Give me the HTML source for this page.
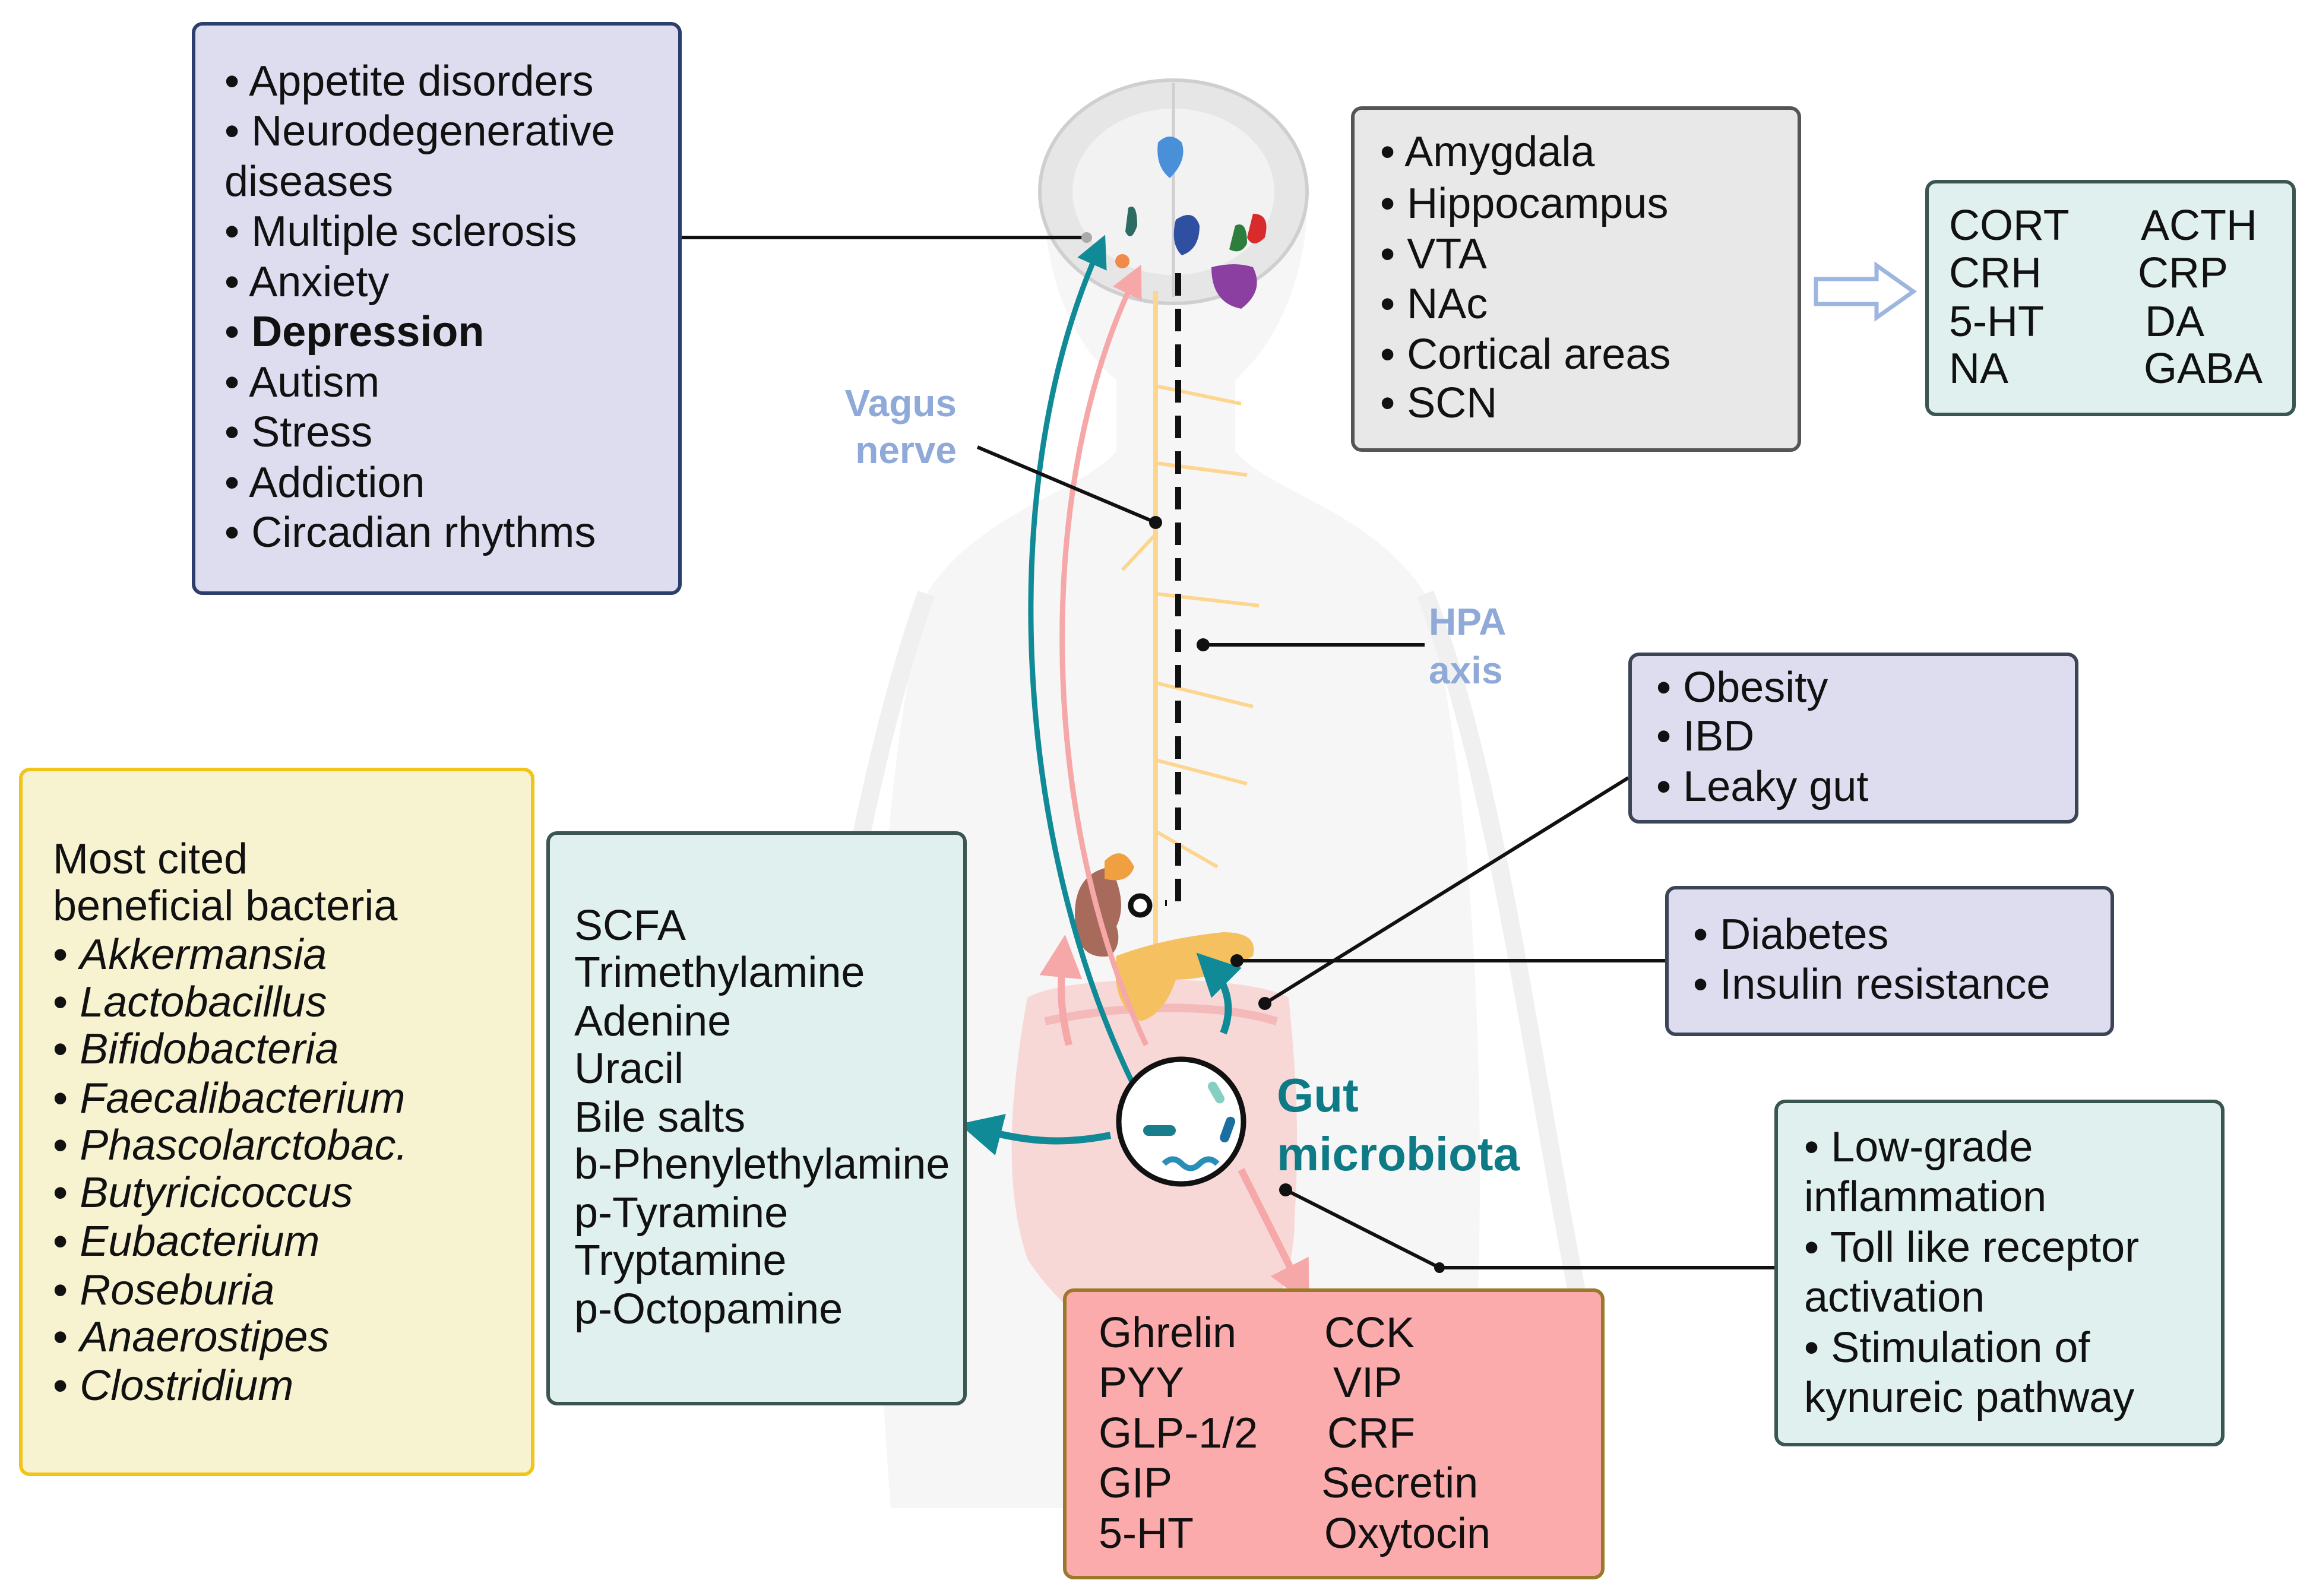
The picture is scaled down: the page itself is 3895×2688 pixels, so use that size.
<!DOCTYPE html>
<html><head><meta charset="utf-8"><style>
html,body{margin:0;padding:0;background:#fff}
body{width:3895px;height:2688px;position:relative;overflow:hidden;font-family:"Liberation Sans",sans-serif;color:#111}
.box{position:absolute;box-sizing:border-box;border-radius:18px;border:6px solid}
.t{position:absolute;font-size:72px;line-height:1;white-space:nowrap;transform:translateY(-50%)}
svg{position:absolute;left:0;top:0}
</style></head><body>
<svg width="3895" height="2688" viewBox="0 0 3895 2688">
<defs>
<marker id="ta" markerWidth="6" markerHeight="6" refX="3" refY="3" orient="auto"><path d="M0,0L6,3L0,6z" fill="#0f8a96"/></marker>
<marker id="pa" markerWidth="6" markerHeight="6" refX="3" refY="3" orient="auto"><path d="M0,0L6,3L0,6z" fill="#f6a7a7"/></marker>
</defs>
<path d="M1500,2540 C1450,1900 1480,1300 1560,1000 C1650,860 1820,830 1880,760 L1880,640 C1780,560 1750,400 1760,300 C1780,170 1880,140 1976,140 C2080,140 2180,180 2200,300 C2210,420 2170,560 2080,640 L2080,760 C2140,830 2310,860 2400,1000 C2480,1300 2520,1900 2470,2540 Z" fill="#f6f6f6"/>
<path d="M1560,1000 C1450,1300 1380,1800 1300,2200 M2400,1000 C2520,1300 2580,1800 2660,2200" stroke="#f0f0f0" stroke-width="30" fill="none"/>
<ellipse cx="1976" cy="323" rx="225" ry="188" fill="#e6e6e6" stroke="#cfcfcf" stroke-width="6"/>
<ellipse cx="1976" cy="323" rx="170" ry="140" fill="#f2f2f2"/>
<line x1="1976" y1="140" x2="1976" y2="500" stroke="#cfcfcf" stroke-width="5"/>
<path d="M1950,240 q20,-20 40,0 q10,30 -20,60 q-25,-20 -20,-60z" fill="#4a90d9"/>
<path d="M1980,370 q30,-20 40,10 q0,40 -30,50 q-20,-20 -10,-60z" fill="#2f4fa0"/>
<path d="M2080,380 q20,-10 20,30 q-10,20 -30,10z" fill="#2e7d3d"/>
<path d="M2110,360 q30,0 20,40 q-20,20 -30,0z" fill="#d92b2b"/>
<path d="M2040,450 q40,-10 70,0 q20,40 -20,70 q-50,-10 -50,-70z" fill="#8b3fa0"/>
<path d="M1900,350 q15,-10 15,30 q-10,30 -20,10z" fill="#2d6b63"/>
<circle cx="1890" cy="440" r="12" fill="#f08a4b"/>
<path d="M1730,1680 C1700,1850 1690,2000 1730,2120 C1780,2200 1860,2250 1900,2300 L1930,2500 L2050,2500 L2070,2300 C2120,2250 2180,2180 2180,2050 C2190,1900 2180,1780 2170,1680 C2100,1640 1800,1640 1730,1680Z" fill="#f9cfcf" opacity="0.8"/>
<path d="M1760,1720 C1900,1690 2050,1690 2150,1720" stroke="#f4b9b9" stroke-width="14" fill="none"/>
<path d="M1946,490 L1946,1700" stroke="#fcd58f" stroke-width="8" fill="none"/>
<path d="M1946,650 L2090,680 M1946,780 L2100,800 M1946,1000 L2120,1020 M1946,1150 L2110,1190 M1946,1280 L2100,1320 M1946,900 L1890,960 M1946,1400 L2050,1460" stroke="#fcd58f" stroke-width="6" fill="none"/>
<path d="M1870,1460 q-60,10 -60,80 q0,80 60,70 q20,-20 10,-50 q20,-40 -10,-100z" fill="#a86b5b"/>
<path d="M1860,1450 q30,-30 50,10 q-10,30 -50,20z" fill="#f0a040"/>
<path d="M1880,1610 q80,-30 180,-40 q60,0 50,40 q-60,40 -130,40 q-20,60 -60,70 q-50,-30 -40,-110z" fill="#f5c060"/>
<circle cx="1920" cy="1525" r="16" fill="#fff" stroke="#111" stroke-width="9"/>
<path d="M1984,460 L1984,1521 L1962,1521" stroke="#111" stroke-width="10" stroke-dasharray="38,22" fill="none"/>
<path d="M1910,1830 C1700,1400 1680,800 1850,420" stroke="#0f8a96" stroke-width="9" fill="none" marker-end="url(#ta)"/>
<path d="M1930,1760 C1740,1350 1750,800 1910,470" stroke="#f6a7a7" stroke-width="9" fill="none" marker-end="url(#pa)"/>
<path d="M1870,1912 C1780,1930 1720,1920 1650,1902" stroke="#0f8a96" stroke-width="12" fill="none" marker-end="url(#ta)"/>
<path d="M2060,1740 C2080,1690 2060,1650 2040,1630" stroke="#0f8a96" stroke-width="12" fill="none" marker-end="url(#ta)"/>
<path d="M1800,1760 C1785,1700 1785,1660 1790,1610" stroke="#f6a7a7" stroke-width="12" fill="none" marker-end="url(#pa)"/>
<path d="M2090,1970 C2130,2050 2160,2110 2188,2165" stroke="#f6a7a7" stroke-width="12" fill="none" marker-end="url(#pa)"/>
<circle cx="1989" cy="1889" r="105" fill="#fff" stroke="#111" stroke-width="9"/>
<rect x="1925" y="1895" width="55" height="18" rx="9" fill="#1a7d8c"/>
<rect x="2040" y="1820" width="16" height="40" rx="8" fill="#86d0c3" transform="rotate(-30 2048 1840)"/>
<rect x="2060" y="1880" width="16" height="45" rx="8" fill="#1a6fa0" transform="rotate(20 2068 1900)"/>
<path d="M1960,1960 q15,-15 30,0 q15,15 30,0 q15,-15 30,0" stroke="#2a8fb8" stroke-width="10" fill="none"/>
<g stroke="#111" stroke-width="6" fill="none">
<line x1="1148" y1="400" x2="1830" y2="400"/>
<line x1="1646" y1="753" x2="1946" y2="880"/>
<line x1="2026" y1="1086" x2="2399" y2="1086"/>
<line x1="2742" y1="1310" x2="2130" y2="1690"/>
<line x1="2804" y1="1618" x2="2083" y2="1618"/>
<polyline points="2988,2135 2424,2135 2165,2004"/>
</g>
<g fill="#111"><circle cx="1946" cy="880" r="11"/><circle cx="2026" cy="1086" r="11"/><circle cx="2130" cy="1690" r="11"/><circle cx="2083" cy="1618" r="11"/><circle cx="2424" cy="2135" r="9"/><circle cx="2165" cy="2004" r="11"/></g>
<circle cx="1830" cy="400" r="9" fill="#aaa"/>
<path d="M3058,470 L3160,470 L3160,447 L3222,491 L3160,535 L3160,512 L3058,512Z" fill="#fff" stroke="#9cb6e0" stroke-width="7"/>
</svg>

<div class="box" style="left:323px;top:37px;width:825px;height:965px;background:#dedcef;border-color:#2c3e6b"></div>
<div class="box" style="left:2275px;top:179px;width:758px;height:582px;background:#e8e8e8;border-color:#555"></div>
<div class="box" style="left:3242px;top:303px;width:624px;height:398px;background:#dff0ee;border-color:#3b5550"></div>
<div class="box" style="left:2742px;top:1099px;width:758px;height:288px;background:#dedcef;border-color:#3b4555"></div>
<div class="box" style="left:2804px;top:1492px;width:756px;height:253px;background:#dedcef;border-color:#3b4555"></div>
<div class="box" style="left:2988px;top:1852px;width:758px;height:584px;background:#dff0ee;border-color:#3b5550"></div>
<div class="box" style="left:32px;top:1293px;width:868px;height:1193px;background:#f7f3d1;border-color:#f0c419"></div>
<div class="box" style="left:920px;top:1400px;width:708px;height:967px;background:#dff0ee;border-color:#3b5550"></div>
<div class="box" style="left:1790px;top:2170px;width:912px;height:490px;background:#fbabab;border-color:#9a7a2a"></div>

<div class="t" style="left:378px;top:137px">• Appetite disorders</div>
<div class="t" style="left:378px;top:221px">• Neurodegenerative</div>
<div class="t" style="left:378px;top:306px">diseases</div>
<div class="t" style="left:378px;top:390px">• Multiple sclerosis</div>
<div class="t" style="left:378px;top:475px">• Anxiety</div>
<div class="t" style="left:378px;top:559px">• <b>Depression</b></div>
<div class="t" style="left:378px;top:644px">• Autism</div>
<div class="t" style="left:378px;top:728px">• Stress</div>
<div class="t" style="left:378px;top:813px">• Addiction</div>
<div class="t" style="left:378px;top:897px">• Circadian rhythms</div>

<div class="t" style="left:2324px;top:256px">• Amygdala</div>
<div class="t" style="left:2324px;top:343px">• Hippocampus</div>
<div class="t" style="left:2324px;top:428px">• VTA</div>
<div class="t" style="left:2324px;top:512px">• NAc</div>
<div class="t" style="left:2324px;top:597px">• Cortical areas</div>
<div class="t" style="left:2324px;top:679px">• SCN</div>

<div class="t" style="left:3282px;top:380px">CORT</div><div class="t" style="left:3605px;top:380px">ACTH</div>
<div class="t" style="left:3282px;top:460px">CRH</div><div class="t" style="left:3600px;top:460px">CRP</div>
<div class="t" style="left:3282px;top:542px">5-HT</div><div class="t" style="left:3612px;top:542px">DA</div>
<div class="t" style="left:3282px;top:621px">NA</div><div class="t" style="left:3610px;top:621px">GABA</div>

<div class="t" style="left:2789px;top:1158px">• Obesity</div>
<div class="t" style="left:2789px;top:1240px">• IBD</div>
<div class="t" style="left:2789px;top:1325px">• Leaky gut</div>

<div class="t" style="left:2851px;top:1574px">• Diabetes</div>
<div class="t" style="left:2851px;top:1658px">• Insulin resistance</div>

<div class="t" style="left:3038px;top:1932px">• Low-grade</div>
<div class="t" style="left:3038px;top:2016px">inflammation</div>
<div class="t" style="left:3038px;top:2101px">• Toll like receptor</div>
<div class="t" style="left:3038px;top:2185px">activation</div>
<div class="t" style="left:3038px;top:2270px">• Stimulation of</div>
<div class="t" style="left:3038px;top:2354px">kynureic pathway</div>

<div class="t" style="left:89px;top:1447px">Most cited</div>
<div class="t" style="left:89px;top:1526px">beneficial bacteria</div>
<div class="t" style="left:89px;top:1608px">• <i>Akkermansia</i></div>
<div class="t" style="left:89px;top:1688px">• <i>Lactobacillus</i></div>
<div class="t" style="left:89px;top:1767px">• <i>Bifidobacteria</i></div>
<div class="t" style="left:89px;top:1850px">• <i>Faecalibacterium</i></div>
<div class="t" style="left:89px;top:1929px">• <i>Phascolarctobac.</i></div>
<div class="t" style="left:89px;top:2009px">• <i>Butyricicoccus</i></div>
<div class="t" style="left:89px;top:2091px">• <i>Eubacterium</i></div>
<div class="t" style="left:89px;top:2173px">• <i>Roseburia</i></div>
<div class="t" style="left:89px;top:2252px">• <i>Anaerostipes</i></div>
<div class="t" style="left:89px;top:2334px">• <i>Clostridium</i></div>

<div class="t" style="left:967px;top:1559px">SCFA</div>
<div class="t" style="left:967px;top:1638px">Trimethylamine</div>
<div class="t" style="left:967px;top:1720px">Adenine</div>
<div class="t" style="left:967px;top:1800px">Uracil</div>
<div class="t" style="left:967px;top:1882px">Bile salts</div>
<div class="t" style="left:967px;top:1961px">b-Phenylethylamine</div>
<div class="t" style="left:967px;top:2043px">p-Tyramine</div>
<div class="t" style="left:967px;top:2123px">Tryptamine</div>
<div class="t" style="left:967px;top:2205px">p-Octopamine</div>

<div class="t" style="left:1850px;top:2245px">Ghrelin</div><div class="t" style="left:2230px;top:2245px">CCK</div>
<div class="t" style="left:1850px;top:2329px">PYY</div><div class="t" style="left:2245px;top:2329px">VIP</div>
<div class="t" style="left:1850px;top:2414px">GLP-1/2</div><div class="t" style="left:2235px;top:2414px">CRF</div>
<div class="t" style="left:1850px;top:2498px">GIP</div><div class="t" style="left:2225px;top:2498px">Secretin</div>
<div class="t" style="left:1850px;top:2583px">5-HT</div><div class="t" style="left:2230px;top:2583px">Oxytocin</div>

<div class="t" style="right:2284px;top:679px;color:#8fa9d8;font-weight:bold;font-size:64px">Vagus</div>
<div class="t" style="right:2284px;top:758px;color:#8fa9d8;font-weight:bold;font-size:64px">nerve</div>
<div class="t" style="left:2406px;top:1047px;color:#8fa9d8;font-weight:bold;font-size:64px">HPA</div>
<div class="t" style="left:2406px;top:1129px;color:#8fa9d8;font-weight:bold;font-size:64px">axis</div>
<div class="t" style="left:2150px;top:1845px;color:#0d7a86;font-weight:bold;font-size:80px">Gut</div>
<div class="t" style="left:2150px;top:1944px;color:#0d7a86;font-weight:bold;font-size:80px">microbiota</div>
</body></html>
